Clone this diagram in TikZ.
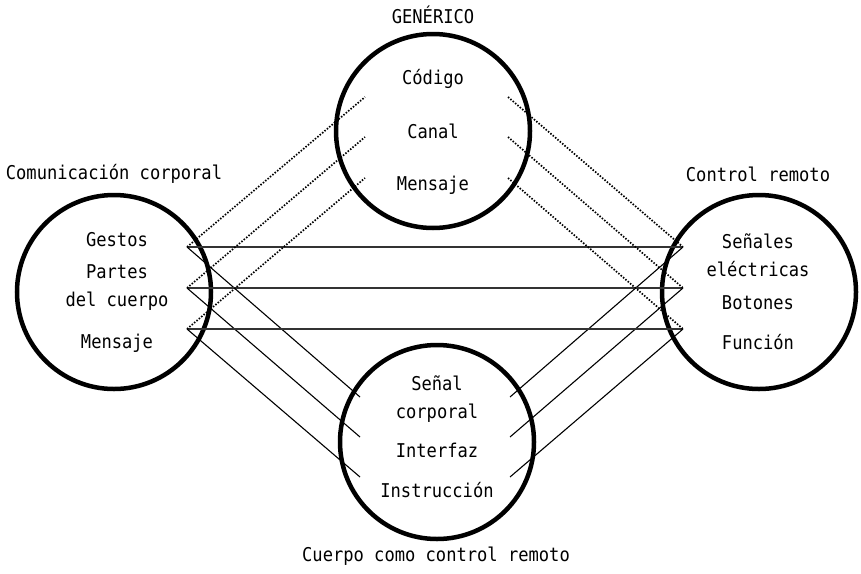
\documentclass[tikz,border=0pt]{standalone}
\usepackage{fontspec}
\setmonofont[FakeStretch=0.9]{DejaVu Sans Mono}

\begin{document}
\begin{tikzpicture}[x=1pt, y=-1pt, font=\ttfamily\fontsize{19}{28}\selectfont,
    ring/.style={draw, circle, line width=4.5pt, minimum size=194pt, inner sep=0pt},
    word/.style={align=center, inner sep=1pt},
    solidlink/.style={line width=1.1pt},
    flatlink/.style={line width=1.4pt, black!80},
    dotlink/.style={line width=1.7pt, dash pattern=on 1.5pt off 1.6pt}]
    \useasboundingbox (0,0) rectangle (861,573);

    % rings
    \node[ring] (gen) at (433,131) {};
    \node[ring] (com) at (114,292) {};
    \node[ring] (ctl) at (759,292) {};
    \node[ring] (cue) at (437,442) {};

    % titles
    \node[word] (genT) at (433,15)  {GENÉRICO};
    \node[word] (comT) at (114,174) {Comunicación corporal};
    \node[word] (ctlT) at (758,174) {Control remoto};
    \node[word] (cueT) at (436,556) {Cuerpo como control remoto};

    % words inside the rings
    \node[word] (codigo)  at (433,79)  {Código};
    \node[word] (canal)   at (433,131) {Canal};
    \node[word] (mensajeG) at (433,185) {Mensaje};

    \node[word] (gestos)  at (117,240) {Gestos};
    \node[word] (partes)  at (117,288) {Partes\\del cuerpo};
    \node[word] (mensajeC) at (117,343) {Mensaje};

    \node[word] (senales) at (758,255) {Señales\\eléctricas};
    \node[word] (botones) at (758,303) {Botones};
    \node[word] (funcion) at (758,342) {Función};

    \node[word] (senal)   at (437,399) {Señal\\corporal};
    \node[word] (interfaz) at (437,450) {Interfaz};
    \node[word] (instruccion) at (437,490) {Instrucción};

    % line ends
    \coordinate (l1) at (187,247);  \coordinate (r1) at (683,247);
    \coordinate (l2) at (187,288);  \coordinate (r2) at (683,288);
    \coordinate (l3) at (187,329);  \coordinate (r3) at (683,329);
    \coordinate (tl1) at (365,97);  \coordinate (tr1) at (508,97);
    \coordinate (tl2) at (365,137); \coordinate (tr2) at (508,137);
    \coordinate (tl3) at (365,178); \coordinate (tr3) at (508,178);
    \coordinate (bl1) at (360,397); \coordinate (br1) at (510,397);
    \coordinate (bl2) at (360,437); \coordinate (br2) at (510,437);
    \coordinate (bl3) at (360,477); \coordinate (br3) at (510,477);

    \foreach \i in {1,2,3} {
      \draw[flatlink] (l\i) -- (r\i);
      \draw[dotlink] (l\i) -- (tl\i);
      \draw[dotlink] (tr\i) -- (r\i);
      \draw[solidlink] (l\i) -- (bl\i);
      \draw[solidlink] (br\i) -- (r\i);
    }

\end{tikzpicture}
\end{document}
